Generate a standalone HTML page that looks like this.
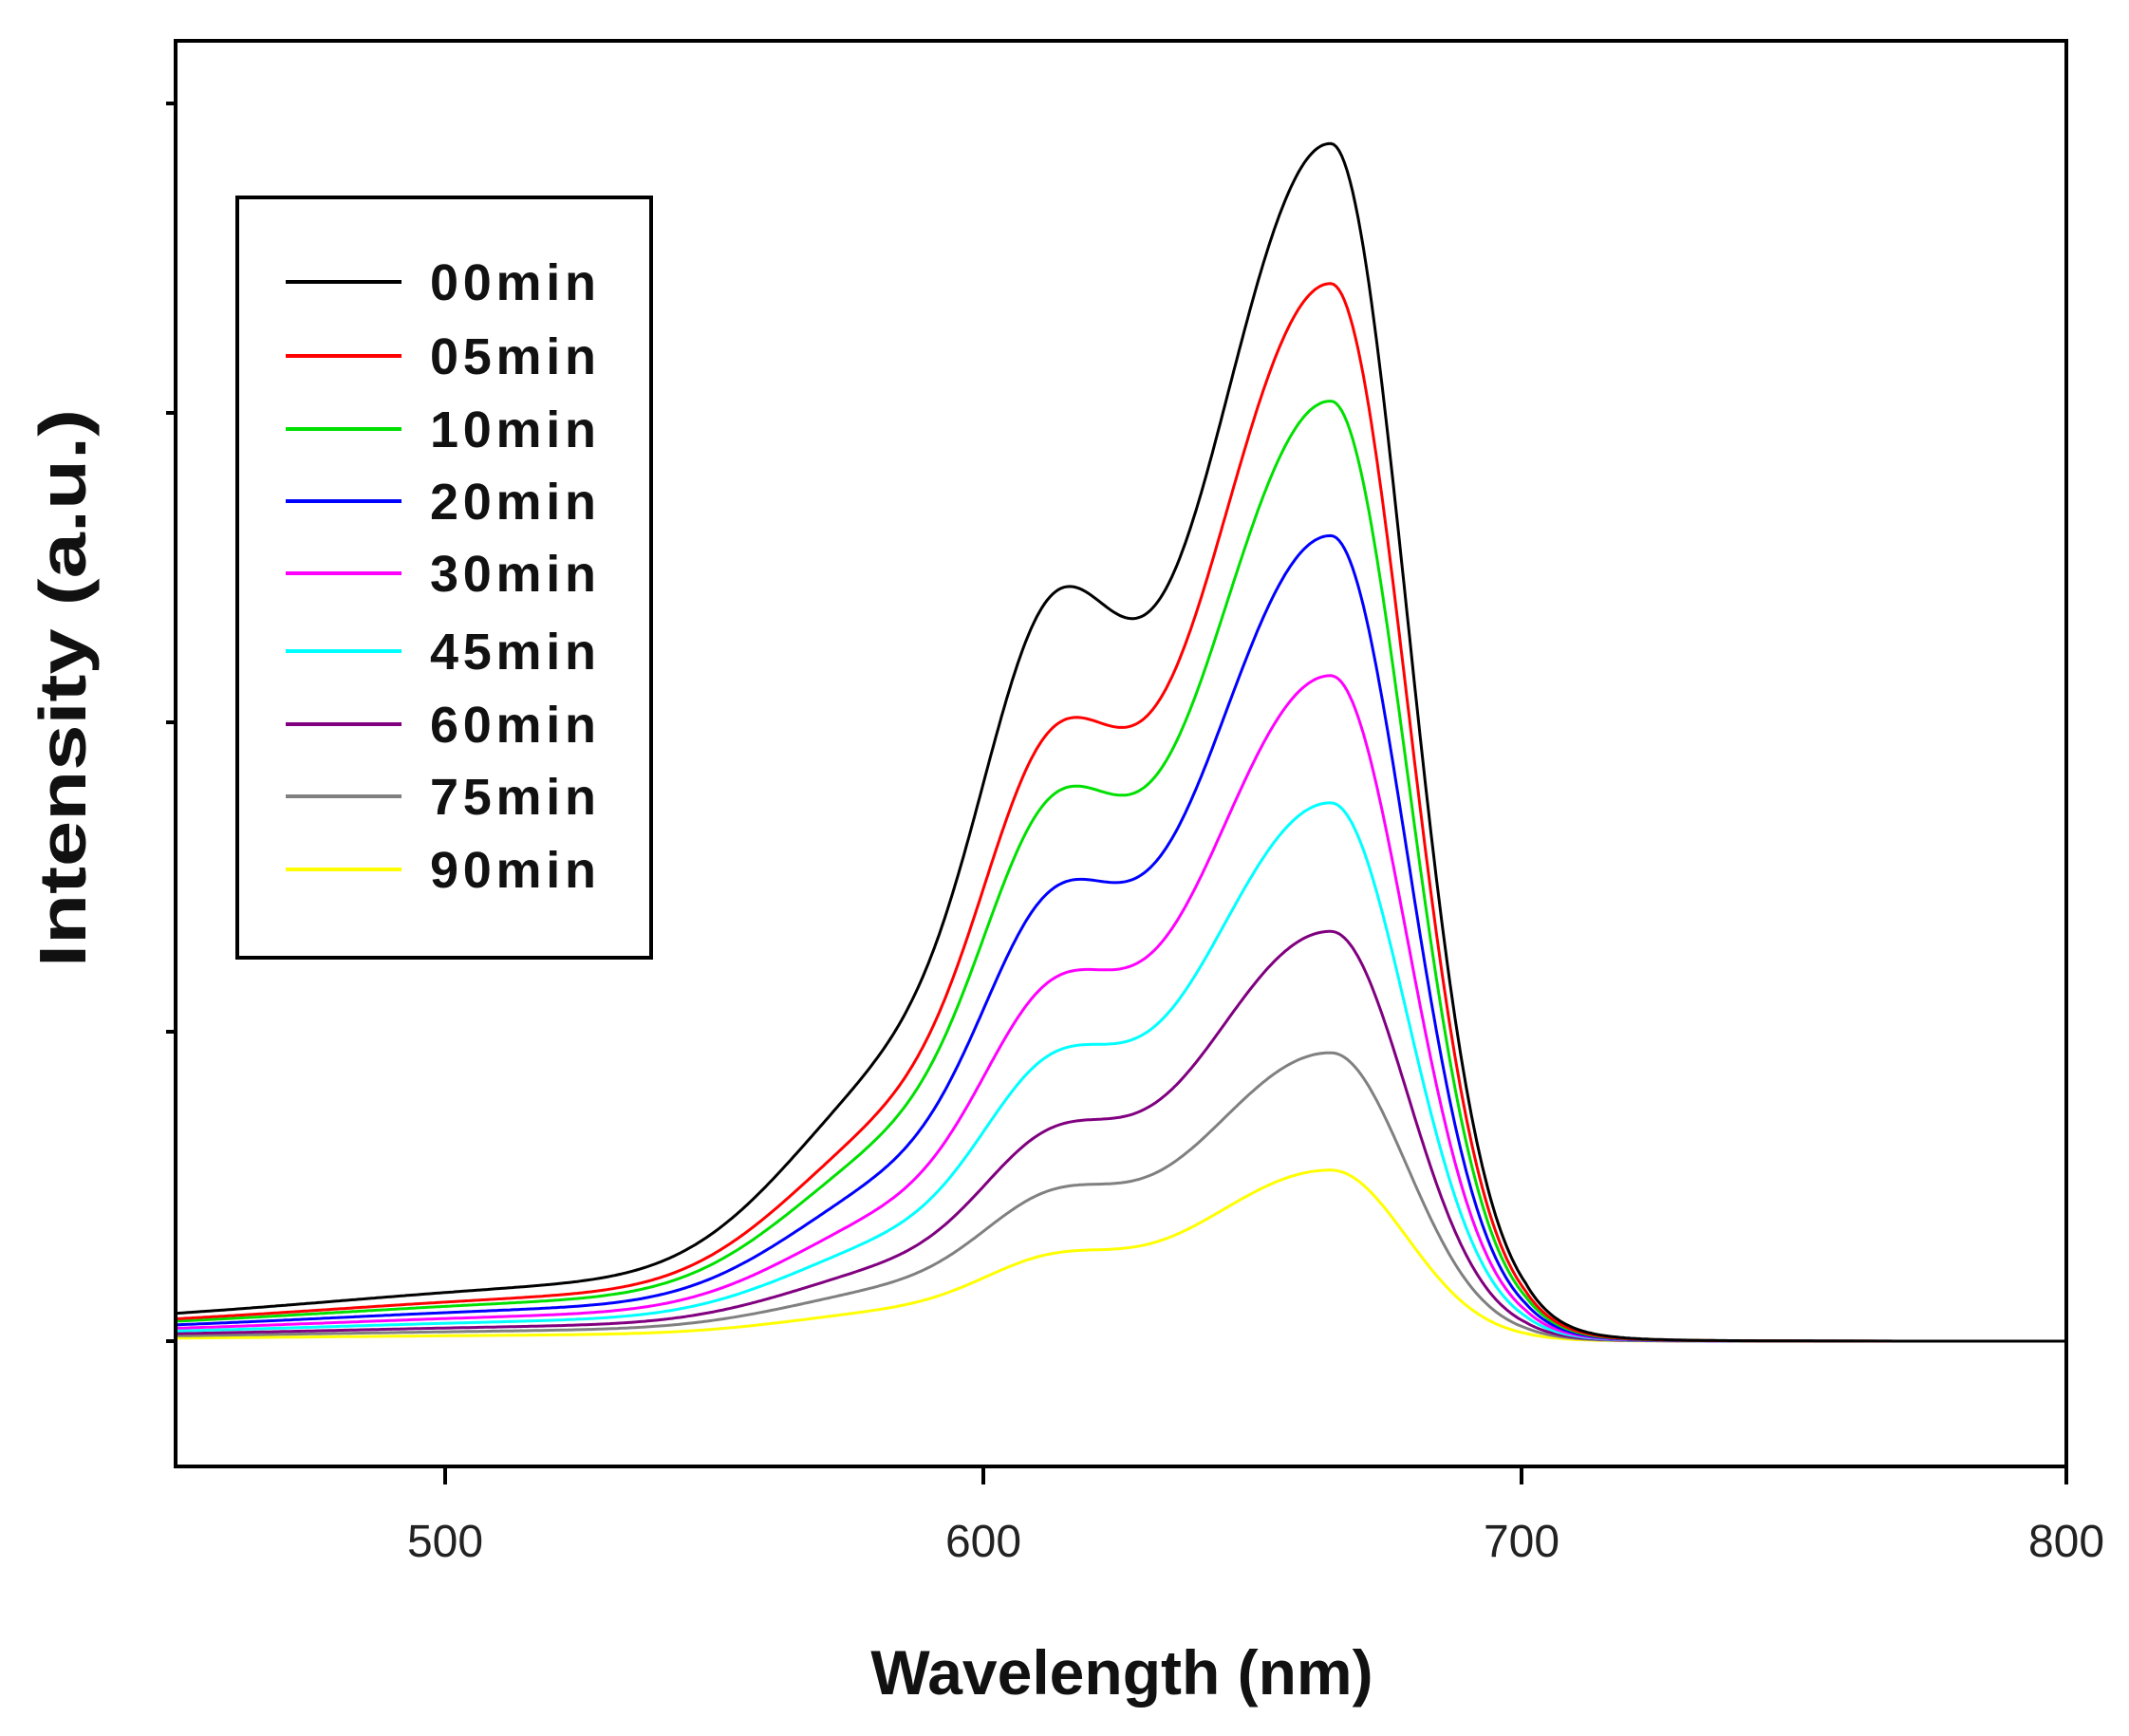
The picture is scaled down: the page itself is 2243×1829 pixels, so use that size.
<!DOCTYPE html>
<html><head><meta charset="utf-8">
<style>
html,body{margin:0;padding:0;background:#fff;}
svg{display:block;}
</style></head>
<body>
<svg id="c" xmlns="http://www.w3.org/2000/svg" width="2243" height="1829" viewBox="0 0 2243 1829">
<rect x="0" y="0" width="2243" height="1829" fill="#fff"/>
<g id="curves"></g>
<rect x="185" y="43" width="1992" height="1502" fill="none" stroke="#000" stroke-width="4"/>
<g stroke="#000" stroke-width="4">
<line x1="469" y1="1545" x2="469" y2="1564"/>
<line x1="1036" y1="1545" x2="1036" y2="1564"/>
<line x1="1603" y1="1545" x2="1603" y2="1564"/>
<line x1="2177" y1="1545" x2="2177" y2="1564"/>
<line x1="175" y1="109" x2="185" y2="109"/>
<line x1="175" y1="435" x2="185" y2="435"/>
<line x1="175" y1="761" x2="185" y2="761"/>
<line x1="175" y1="1087" x2="185" y2="1087"/>
<line x1="175" y1="1413" x2="185" y2="1413"/>
</g>
<g font-family="Liberation Sans, sans-serif" font-size="48" text-anchor="middle" fill="#222">
<text x="469" y="1640">500</text>
<text x="1036" y="1640">600</text>
<text x="1603" y="1640">700</text>
<text x="2177" y="1640">800</text>
</g>
<text x="1182" y="1785" font-family="Liberation Sans, sans-serif" font-weight="bold" font-size="66" text-anchor="middle" fill="#111">Wavelength (nm)</text>
<text transform="translate(90,725) rotate(-90)" font-family="Liberation Sans, sans-serif" font-weight="bold" font-size="70" text-anchor="middle" textLength="588" lengthAdjust="spacingAndGlyphs" fill="#111">Intensity (a.u.)</text>
<rect x="250" y="208" width="436" height="801" fill="#fff" stroke="#000" stroke-width="4"/>
<g id="legend" font-family="Liberation Sans, sans-serif" font-weight="bold" font-size="54" fill="#111"></g>
</svg>
<script>
var curves=[
 ["#000000",865,1.0,"00min"],
 ["#ff0000",765,0.803,"05min"],
 ["#00e000",680,0.715,"10min"],
 ["#0000ff",583,0.586,"20min"],
 ["#ff00ff",482,0.464,"30min"],
 ["#00ffff",390,0.367,"45min"],
 ["#800080",297,0.270,"60min"],
 ["#808080",209,0.192,"75min"],
 ["#ffff00",124,0.110,"90min"]
];
function g(x,m,s){return Math.exp(-(x-m)*(x-m)/(2*s*s));}
function h(nm,A,s){
 var main = nm<664 ? A*g(nm,664,26) : A*g(nm,664,14);
 var sh = s*(320*g(nm,612,13)+160*g(nm,587,22)+32*g(nm,540,60));
 var tail = s*10*(nm<700?1:Math.exp(-(nm-700)/10));
 return main+sh+tail;
}
var ns="http://www.w3.org/2000/svg";
var G=document.getElementById("curves");
for(var i=curves.length-1;i>=0;i--){
 var c=curves[i],pts=[];
 for(var nm=450;nm<=800;nm+=0.5){
  var x=184+(nm-450)*5.693;
  var y=1413-h(nm,c[1],c[2])*1.435;
  pts.push(x.toFixed(1)+","+y.toFixed(1));
 }
 var p=document.createElementNS(ns,"polyline");
 p.setAttribute("points",pts.join(" "));
 p.setAttribute("fill","none");
 p.setAttribute("stroke",c[0]);
 p.setAttribute("stroke-width","3");
 G.appendChild(p);
}
var L=document.getElementById("legend");
var ys=[297,375,452,528,604,686,763,839,916];
for(var i=0;i<curves.length;i++){
 var l=document.createElementNS(ns,"line");
 l.setAttribute("x1",301);l.setAttribute("x2",423);
 l.setAttribute("y1",ys[i]);l.setAttribute("y2",ys[i]);
 l.setAttribute("stroke",curves[i][0]);l.setAttribute("stroke-width","4");
 L.appendChild(l);
 var t=document.createElementNS(ns,"text");
 t.setAttribute("x",453);t.setAttribute("y",ys[i]+19);
 t.setAttribute("textLength","175");
 t.setAttribute("lengthAdjust","spacing");
 t.textContent=curves[i][3];
 L.appendChild(t);
}
</script>
</body></html>
